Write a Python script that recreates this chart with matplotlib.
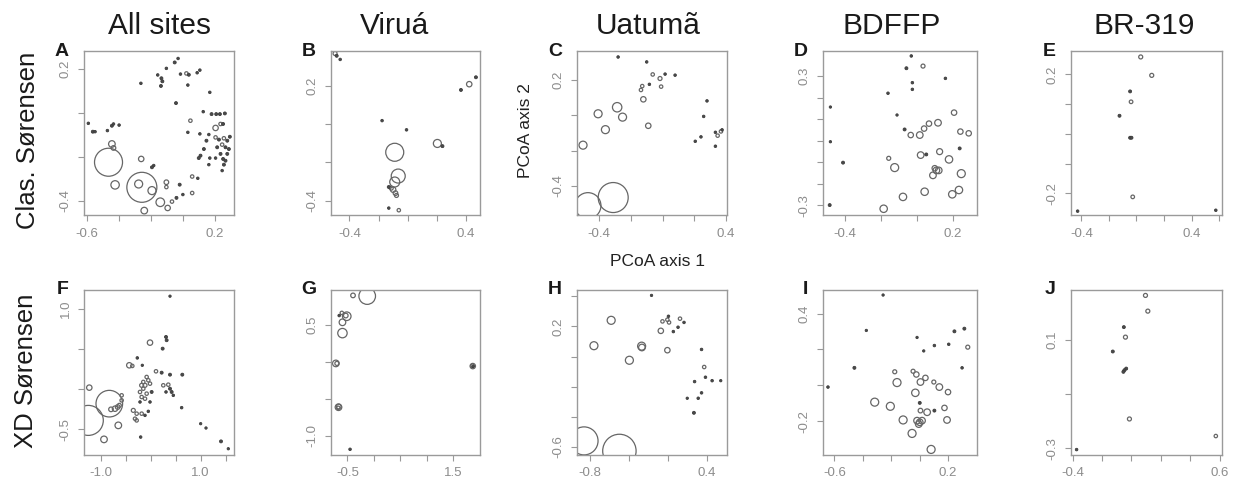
import matplotlib
matplotlib.use("Agg")
import matplotlib.pyplot as plt
import numpy as np

plt.rcParams["font.family"] = ["Liberation Sans", "DejaVu Sans"]
plt.rcParams["axes.unicode_minus"] = False

W, H = 1243, 497

col_titles = ["All sites", "Viruá", "Uatumã", "BDFFP", "BR-319"]
row_titles = ["Clas. Sørensen", "XD Sørensen"]
letters = ["A", "B", "C", "D", "E", "F", "G", "H", "I", "J"]

# ---- panel data: PCoA axis 1, PCoA axis 2, bubble weight ----
a_x = [-0.464, -0.256, -0.443, -0.433, -0.423, -0.260, -0.276, -0.193, -0.141, -0.241, -0.095, -0.103,
       -0.103, -0.182, -0.193, -0.020, -0.068, -0.040, 0.000, 0.058, 0.058, 0.093,
       -0.590, -0.562, -0.548, -0.471, -0.443, -0.433, -0.398,
       -0.262, -0.157, -0.134, -0.128, -0.137, -0.103, -0.051, -0.030, -0.015, 0.022, 0.037, 0.089,
       0.106, 0.031, 0.168, -0.043,
       0.047, 0.031, 0.127, 0.179, 0.208, 0.231, 0.262, 0.235, 0.251, 0.204, 0.162, 0.106, 0.147,
       0.204, 0.225, 0.256, 0.277, 0.245, 0.214, 0.266, 0.287, 0.131, 0.110, 0.099, 0.168, 0.204,
       0.235, 0.251, 0.266, 0.256, 0.162, 0.245, 0.277, 0.293]
a_y = [-0.224, -0.338, -0.141, -0.159, -0.327, -0.209, -0.323, -0.353, -0.406, -0.444, -0.432, -0.315,
       -0.337, -0.239, -0.247, -0.326, -0.403, -0.386, -0.371, -0.364, -0.289, -0.297,
       -0.047, -0.085, -0.085, -0.080, -0.058, -0.050, -0.055,
       0.135, 0.173, 0.158, 0.144, 0.123, 0.203, 0.230, 0.248, 0.177, 0.180, 0.174, 0.183,
       0.195, 0.127, 0.094, 0.045,
       -0.035, -0.088, 0.006, -0.005, -0.005, -0.005, -0.002, -0.050, -0.050, -0.068, -0.098, -0.095, -0.126,
       -0.111, -0.121, -0.115, -0.126, -0.144, -0.156, -0.156, -0.164, -0.164, -0.194, -0.205, -0.205, -0.205,
       -0.186, -0.209, -0.217, -0.235, -0.235, -0.262, -0.186, -0.108]
a_w = [14, 15, 3.3, 2.3, 4.2, 2.7, 4, 4, 4.3, 3.3, 2.7, 2.3,
       1.7, 1.3, 1.5, 1.5, 1.7, 1.5, 1.3, 1.7, 1.7, 1.3,
       1.3, 1.5, 1.3, 1.3, 1.5, 1.3, 1.3,
       1.3, 1.3, 1.5, 1.5, 1.5, 1.3, 1.5, 1.3, 1.3, 1.7, 1.5, 1.3,
       1.3, 1.3, 1.3, 1.5,
       1.7, 1.3, 1.3, 1.5, 1.5, 1.5, 1.5, 1.7, 1.5, 2.7, 1.3, 1.3, 1.5,
       1.7, 1.5, 1.7, 1.5, 1.7, 1.5, 1.5, 1.5, 1.5, 1.5, 1.5, 1.3, 1.3,
       1.5, 1.5, 1.5, 1.5, 1.3, 1.3, 1.5, 1.5]

b_x = [-0.499, -0.488, -0.464, 0.366, 0.423, 0.469, -0.176, -0.008, 0.204, 0.239, -0.089, -0.065,
       -0.089, -0.130, -0.100, -0.084, -0.077, -0.113, -0.130, -0.061]
b_y = [0.367, 0.355, 0.336, 0.177, 0.207, 0.243, 0.017, -0.031, -0.102, -0.116, -0.148, -0.272,
       -0.303, -0.329, -0.343, -0.361, -0.373, -0.335, -0.439, -0.450]
b_w = [2, 1.5, 1.3, 1.5, 2.7, 1.5, 1.3, 1.3, 4, 1.5, 9, 7,
       5, 1.5, 2.7, 2.3, 2, 2, 1.3, 1.7]

c_x = [-0.280, -0.100, -0.062, 0.016, 0.079, -0.016, -0.009, -0.083, -0.128, -0.136, -0.121, -0.090,
       -0.286, -0.252, -0.406, -0.360, -0.501, 0.280, 0.259, 0.206, 0.242, 0.333, 0.333, 0.347,
       0.368, 0.375, -0.311, -0.470]
c_y = [0.331, 0.303, 0.232, 0.234, 0.228, 0.209, 0.163, 0.176, 0.166, 0.144, 0.091, -0.059,
       0.046, -0.010, 0.009, -0.081, -0.169, 0.082, -0.006, -0.147, -0.122, -0.175, -0.096, -0.115,
       -0.091, -0.082, -0.466, -0.512]
c_w = [1.3, 1.3, 1.7, 1.3, 1.3, 2, 1.7, 1.3, 1.7, 1.7, 2.7, 2.7,
       4.7, 4, 4, 4, 4, 1.3, 1.3, 1.3, 1.3, 1.3, 1.3, 1.7,
       1.7, 1.3, 15, 13]

d_x = [-0.031, -0.058, 0.034, -0.025, -0.025, 0.158, -0.160, -0.479, -0.110, -0.479, -0.409, -0.483,
       0.206, 0.117, 0.067, 0.040, 0.016, -0.034, -0.068, 0.241, 0.287, 0.237, 0.126, 0.021,
       0.052, -0.156, 0.178, -0.123, 0.099, 0.108, 0.121, 0.089, 0.246, 0.043, -0.077, 0.196,
       0.233, -0.184]
d_y = [0.393, 0.336, 0.346, 0.269, 0.238, 0.289, 0.220, 0.156, 0.119, -0.005, -0.102, -0.299,
       0.130, 0.083, 0.079, 0.056, 0.026, 0.026, 0.052, 0.042, 0.034, -0.036, -0.051, -0.067,
       -0.064, -0.082, -0.087, -0.125, -0.128, -0.138, -0.138, -0.161, -0.153, -0.237, -0.261, -0.249,
       -0.229, -0.316]
d_w = [1.3, 1.5, 2, 1.3, 1.3, 1.3, 1.3, 1.2, 1.2, 1.2, 1.5, 1.5,
       2.7, 3.3, 2.7, 2.7, 3.3, 2.7, 1.5, 2.7, 2.7, 1.5, 3, 3.3,
       1.5, 2, 3.7, 4, 2.7, 3.3, 3.3, 3.3, 4, 3.7, 3.7, 3.7,
       3.7, 3.7]

e_x = [0.031, 0.111, -0.046, -0.039, -0.123, -0.046, -0.036, -0.027, -0.427, 0.576]
e_y = [0.259, 0.197, 0.143, 0.108, 0.061, -0.013, -0.013, -0.212, -0.260, -0.257]
e_w = [2, 2, 1.5, 1.8, 1.5, 1.5, 1.5, 1.8, 1.3, 1.3]

f_x = [0.387, -0.013, 0.307, 0.320, 0.240, -0.267, -0.427, -0.367, -0.167, 0.633, 0.107, 0.220, 0.387,
       -0.080, -0.047, -0.147, -0.180, -0.113, -0.013, -0.147, -0.213, -0.080, -0.113, -0.180, -0.013,
       -0.213, 0.020,
       0.253, 0.353, 0.387, 0.420, 0.453, 0.307, 0.620, 1.000, 1.107, 1.407, 1.553,
       -0.347, -0.280, -0.313, -0.180, -0.113, -0.047, -0.280, -0.200, -0.580, -0.580, -0.627, -0.713,
       -0.793, -0.660, -0.647, -0.933, -1.227, -0.827, -1.247]
f_y = [1.163, 0.583, 0.654, 0.613, 0.508, 0.392, 0.300, 0.292, 0.300, 0.183, 0.225, 0.208, 0.183,
       0.154, 0.113, 0.092, 0.050, 0.050, 0.071, 0.008, -0.033, -0.054, -0.117, -0.096, -0.158,
       -0.158, -0.033,
       0.050, 0.058, 0.008, -0.033, -0.075, -0.033, -0.229, -0.429, -0.483, -0.650, -0.742,
       -0.263, -0.304, -0.367, -0.304, -0.325, -0.275, -0.388, -0.596, -0.138, -0.075, -0.200, -0.242,
       -0.250, -0.221, -0.450, -0.625, 0.021, -0.179, -0.388]
f_w = [1.2, 2.7, 1.5, 1.5, 1.5, 1.3, 2.7, 1.7, 1.2, 1.5, 1.7, 1.5, 1.5,
       1.7, 1.7, 1.7, 2, 2, 1.7, 1.7, 1.7, 1.7, 1.7, 1.7, 1.3,
       1.3, 1.5,
       1.7, 1.7, 1.5, 1.5, 1.3, 1.3, 1.3, 1.2, 1.2, 1.5, 1.2,
       2, 1.7, 1.7, 1.7, 1.3, 1.3, 1.7, 1.3, 1.7, 1.7, 2, 2.7,
       2.3, 2.3, 3.3, 3.3, 2.7, 13.3, 15]

g_x = [-0.125, -0.394, -0.656, -0.606, -0.531, -0.513, -0.594, -0.594, -0.719, -0.700,
       -0.669, -0.664, -0.674, -0.450, 1.875, 1.870, 1.880]
g_y = [0.886, 0.895, 0.623, 0.659, 0.623, 0.614, 0.532, 0.386, -0.023, -0.023,
       -0.614, -0.605, -0.622, -1.182, -0.059, -0.055, -0.063]
g_w = [8.3, 2.3, 1.3, 1.7, 2.3, 4.3, 3.3, 4.7, 3.3, 2,
       3.3, 2.3, 1.7, 1.3, 2.7, 1.8, 1.3]

h_x = [-0.168, -0.580, -0.756, -0.269, -0.266, -0.394, -0.006, -0.073, -0.056, -0.006, 0.005, 0.011,
       0.055, 0.103, 0.123, 0.164, 0.343, 0.370, 0.272, 0.383, 0.451, 0.539, 0.343, 0.309,
       0.197, 0.265, -0.857, -0.496]
h_y = [0.407, 0.241, 0.072, 0.069, 0.060, -0.025, 0.042, 0.171, 0.234, 0.245, 0.268, 0.227,
       0.166, 0.195, 0.252, 0.227, 0.047, -0.070, -0.167, -0.138, -0.161, -0.161, -0.242, -0.278,
       -0.278, -0.375, -0.562, -0.629]
h_w = [1.2, 4, 4, 4, 3.3, 4, 2.7, 2.7, 1.7, 1.7, 1.3, 1.7,
       1.3, 1.3, 1.7, 1.3, 1.3, 1.7, 1.3, 1.3, 1.3, 1.2, 1.3, 1.3,
       1.2, 1.5, 14, 16.7]

i_x = [-0.257, -0.375, -0.459, -0.645, -0.018, 0.029, 0.104, 0.205, 0.245, 0.315, 0.339, 0.299,
       -0.175, -0.046, -0.023, 0.041, 0.006, 0.100, 0.139, -0.159, -0.030, 0.200, -0.316, -0.206,
       0.001, 0.006, 0.053, 0.104, 0.175, -0.116, -0.018, 0.001, 0.017, -0.006, 0.193, -0.053, 0.081]
i_y = [0.503, 0.306, 0.098, -0.009, 0.267, 0.192, 0.222, 0.229, 0.301, 0.316, 0.213, 0.098,
       0.076, 0.079, 0.061, 0.042, 0.019, 0.019, -0.009, 0.016, -0.041, -0.037, -0.093, -0.116,
       -0.097, -0.140, -0.149, -0.140, -0.125, -0.192, -0.196, -0.205, -0.196, -0.215, -0.192, -0.267, -0.356]
i_w = [1.2, 1.2, 1.5, 1.3, 1.2, 1.2, 1.3, 1.3, 1.5, 1.5, 2, 1.3,
       2, 2, 2.7, 2.7, 3.3, 2, 3.3, 4, 3.7, 2.7, 4, 4,
       1.5, 2.3, 3.3, 1.5, 2.7, 4, 3.3, 3.3, 3.3, 3.3, 3.3, 4, 4]

j_x = [0.095, 0.111, -0.052, -0.041, -0.127, -0.036, -0.048, -0.055, -0.014, 0.573, -0.373]
j_y = [0.264, 0.206, 0.147, 0.110, 0.057, -0.006, -0.012, -0.018, -0.192, -0.255, -0.305]
j_w = [2, 2, 1.5, 2, 1.5, 1.5, 1.5, 1.5, 2, 1.7, 1.3]

# ---- axis setup per panel: limits, ticks, labelled ends ----
panels = [
    dict(x=a_x, y=a_y, w=a_w, xlim=(-0.617, 0.319), ylim=(-0.464, 0.282),
         xt=[-0.6, -0.4, -0.2, 0.0, 0.2], yt=[-0.4, -0.2, 0.0, 0.2]),
    dict(x=b_x, y=b_y, w=b_w, xlim=(-0.527, 0.497), ylim=(-0.475, 0.38),
         xt=[-0.4, -0.2, 0.0, 0.2, 0.4], yt=[-0.4, -0.2, 0.0, 0.2]),
    dict(x=c_x, y=c_y, w=c_w, xlim=(-0.539, 0.406), ylim=(-0.565, 0.365),
         xt=[-0.4, -0.2, 0.0, 0.2, 0.4], yt=[-0.4, -0.2, 0.0, 0.2]),
    dict(x=d_x, y=d_y, w=d_w, xlim=(-0.520, 0.333), ylim=(-0.345, 0.416),
         xt=[-0.4, -0.2, 0.0, 0.2], yt=[-0.3, -0.2, -0.1, 0.0, 0.1, 0.2, 0.3]),
    dict(x=e_x, y=e_y, w=e_w, xlim=(-0.475, 0.621), ylim=(-0.273, 0.279),
         xt=[-0.4, -0.2, 0.0, 0.2, 0.4, 0.6], yt=[-0.2, -0.1, 0.0, 0.1, 0.2], xlab=[-0.4, 0.4]),
    dict(x=f_x, y=f_y, w=f_w, xlim=(-1.333, 1.667), ylim=(-0.82, 1.24),
         xt=[-1.0, -0.5, 0.0, 0.5, 1.0, 1.5], yt=[-0.5, 0.0, 0.5, 1.0], xlab=[-1.0, 1.0]),
    dict(x=g_x, y=g_y, w=g_w, xlim=(-0.811, 2.012), ylim=(-1.259, 0.968),
         xt=[-0.5, 0.0, 0.5, 1.0, 1.5], yt=[-1.0, -0.5, 0.0, 0.5]),
    dict(x=h_x, y=h_y, w=h_w, xlim=(-0.929, 0.603), ylim=(-0.656, 0.443),
         xt=[-0.8, -0.4, 0.0, 0.4], yt=[-0.6, -0.4, -0.2, 0.0, 0.2, 0.4], ylab=[-0.6, 0.2]),
    dict(x=i_x, y=i_y, w=i_w, xlim=(-0.680, 0.404), ylim=(-0.387, 0.531),
         xt=[-0.6, -0.4, -0.2, 0.0, 0.2], yt=[-0.2, 0.0, 0.2, 0.4]),
    dict(x=j_x, y=j_y, w=j_w, xlim=(-0.411, 0.615), ylim=(-0.325, 0.284),
         xt=[-0.4, -0.2, 0.0, 0.2, 0.4, 0.6], yt=[-0.3, -0.1, 0.1], ylab=[-0.3, 0.1]),
]

# pixel boxes (left, right) per column, (top, bottom) per row
col_px = [(84, 234), (331, 480), (577, 727), (823, 977), (1071, 1222)]
row_px = [(51, 215), (290, 455)]
letter_y = [52, 289]
title_x = [159, 394, 648, 892, 1144]

fig = plt.figure(figsize=(W / 100, H / 100), dpi=100)
fig.patch.set_facecolor("white")

GREY = "#8c8c8c"


def fmt(v):
    return f"{v:.1f}"


for k, p in enumerate(panels):
    r, c = divmod(k, 5)
    (l, rr), (t, b) = col_px[c], row_px[r]
    ax = fig.add_axes([l / W, 1 - b / H, (rr - l) / W, (b - t) / H])
    x = np.array(p["x"])
    y = np.array(p["y"])
    w = np.array(p["w"])
    s = (2 * w * 0.72) ** 2
    small = w < 1.6
    ax.scatter(x[small], y[small], s=s[small], facecolor="#4a4a4a", edgecolor="#3c3c3c",
               linewidths=0.6, zorder=3)
    ax.scatter(x[~small], y[~small], s=s[~small], facecolor="none", edgecolor="#666666",
               linewidths=0.9, zorder=2)
    ax.set_xlim(*p["xlim"])
    ax.set_ylim(*p["ylim"])

    xlab = p.get("xlab", [p["xt"][0], p["xt"][-1]])
    ylab = p.get("ylab", [p["yt"][0], p["yt"][-1]])
    ax.set_xticks(p["xt"])
    ax.set_xticklabels([fmt(v) if v in xlab else "" for v in p["xt"]])
    ax.set_yticks(p["yt"])
    ax.set_yticklabels([fmt(v) if v in ylab else "" for v in p["yt"]],
                       rotation=90, va="center")
    ax.tick_params(direction="out", length=4, width=0.8, color="#999999",
                   labelcolor=GREY, labelsize=9.5, pad=5)
    for sp in ax.spines.values():
        sp.set_color("#9a9a9a")
        sp.set_linewidth(1.0)

    fig.text((l - 15) / W, 1 - letter_y[r] / H, letters[k], fontsize=14, fontweight="bold",
             ha="right", va="center", color="#1a1a1a")

for c, name in enumerate(col_titles):
    fig.text(title_x[c] / W, 1 - 26 / H, name, fontsize=21.5, ha="center", va="center",
             color="#1a1a1a")

fig.text(28 / W, 1 - 140 / H, row_titles[0], fontsize=18.5, rotation=90,
         ha="center", va="center", color="#1a1a1a")
fig.text(26 / W, 1 - 371 / H, row_titles[1], fontsize=18.5, rotation=90,
         ha="center", va="center", color="#1a1a1a")

fig.text(526 / W, 1 - 131 / H, "PCoA axis 2", fontsize=12.5, rotation=90,
         ha="center", va="center", color="#222222")
fig.text(657 / W, 1 - 261 / H, "PCoA axis 1", fontsize=12.5,
         ha="center", va="center", color="#222222")

fig.savefig("out.png", dpi=100, facecolor="white")
